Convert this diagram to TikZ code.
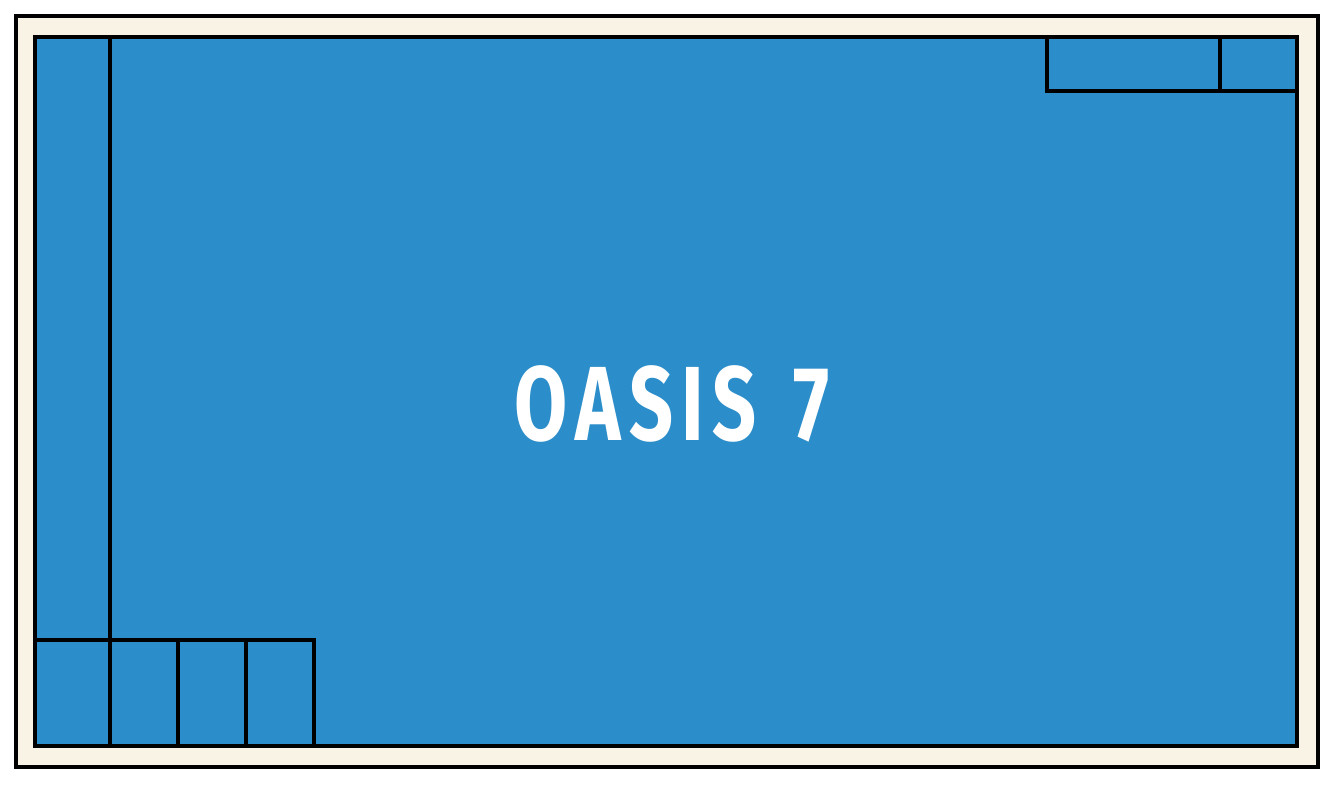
\documentclass[tikz,border=0pt]{standalone}
\usepackage{fontspec}
\setmainfont{Fira Sans}
\usepackage{xcolor}
\usepackage{tikz}
\usetikzlibrary{positioning}

\definecolor{poolblue}{HTML}{2B8DC9}
\definecolor{deckcream}{HTML}{F8F3E4}

\begin{document}
\begin{tikzpicture}[
            x=0.01cm, y=-0.01cm,
            deck/.style={draw=black, fill=deckcream, line width=1.4pt},
            water/.style={draw=black, fill=poolblue, line width=1.2pt},
            wall/.style={draw=black, line width=1.2pt},
            title/.style={text=white, font=\bfseries\fontsize{30}{30}\selectfont\addfontfeatures{LetterSpace=11}}
        ]

        \useasboundingbox (0,0) rectangle (1333,800);

        % Deck and pool
        \draw[deck] (16,16) rectangle (1318,767);
        \draw[water] (35,37) rectangle (1297,746);

        % Left strip and bottom steps
        \draw[wall] (110,37) -- (110,746);
        \draw[wall] (35,640) -- (314,640) -- (314,746);
        \draw[wall] (178,640) -- (178,746);
        \draw[wall] (246,640) -- (246,746);

        % Top right bench
        \draw[wall] (1047,37) -- (1047,91) -- (1297,91);
        \draw[wall] (1220,37) -- (1220,91);

        % Name
        \node[title, xscale=0.73] (name) at (672,404) {OASIS\hspace{4pt} 7};

    \end{tikzpicture}
\end{document}
